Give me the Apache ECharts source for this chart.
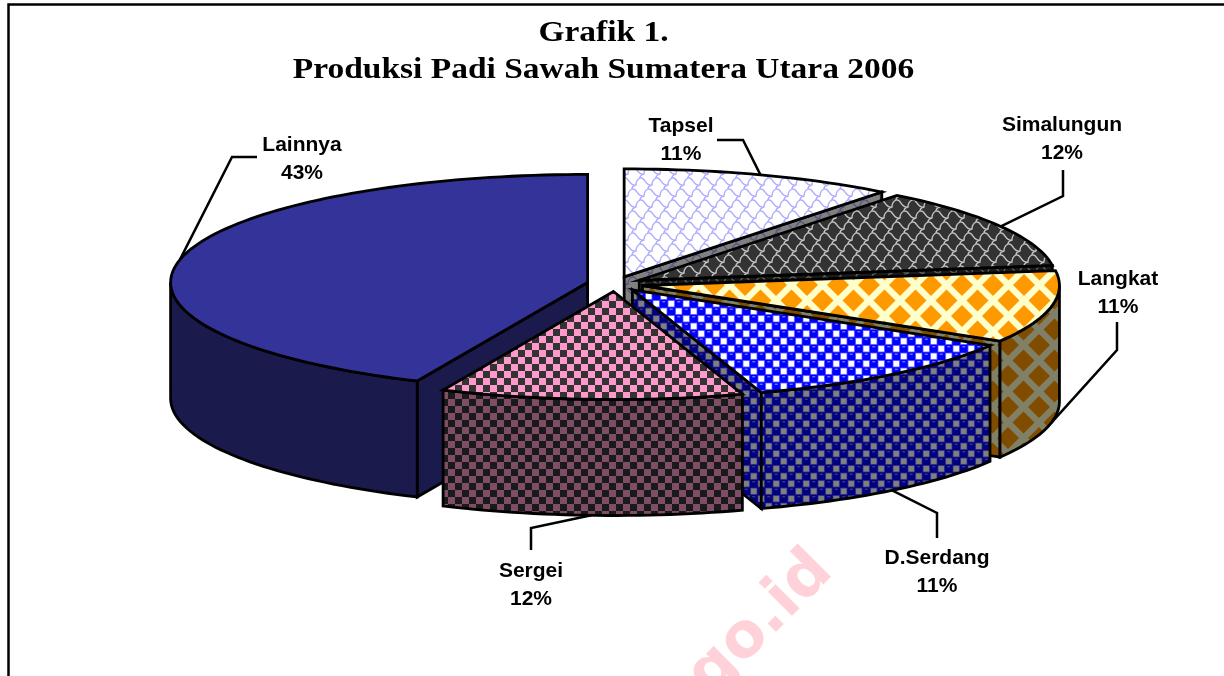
<!DOCTYPE html>
<html>
<head>
<meta charset="utf-8">
<title>Grafik 1</title>
<script src="https://cdn.jsdelivr.net/npm/echarts@6/dist/echarts.min.js"></script>
<style>
  html,body{margin:0;padding:0;background:#fff}
  #chart{width:1224px;height:676px}
</style>
</head>
<body>
<div id="chart"></div>
<script>
// ---------- data ----------
const categories = ['Tapsel', 'Simalungun', 'Langkat', 'D.Serdang', 'Sergei', 'Lainnya'];
const shares = [10.6, 12.2, 10.8, 11.4, 11.7, 43.3];
const percentLabels = ['11%', '12%', '11%', '11%', '12%', '43%'];

// ---------- layout ----------
const pie = {cx: 615, cy: 284, rx: 417, ry: 108, depth: 116, ex: 28, ey: 7.5};
const drawRank = [1, 2, 3, 4, 5, 0];   // Lainnya goes under Sergei
// label centre, elbow and end of each leader line
const labelSpots = [
  {x: 681, y: 140, elbow: [743, 140], end: [717, 140]},
  {x: 1062, y: 139, elbow: [1063, 196], end: [1063, 170]},
  {x: 1118, y: 293, elbow: [1117, 350], end: [1117, 322]},
  {x: 937, y: 572, elbow: [937, 513], end: [937, 538]},
  {x: 531, y: 585, elbow: [531, 528], end: [531, 550]},
  {x: 302, y: 159, elbow: [232, 157], end: [257, 157]}
];

// ---------- pattern tiles ----------
function tile(w, h, bg, draw){
  const c = document.createElement('canvas');
  c.width = w; c.height = h;
  const g = c.getContext('2d');
  g.fillStyle = bg; g.fillRect(0, 0, w, h);
  draw(g, w, h);
  return {image: c, repeat: 'repeat'};
}
function scales(bg, fg){
  return tile(16, 22, bg, g=>{
    g.strokeStyle = fg; g.lineWidth = 1.3;
    for(let row=-1; row<=2; row++) for(let col=-1; col<=1; col++){
      const x = col*16+(row%2 ? 8 : 0), y = row*11+2;
      g.beginPath();
      g.moveTo(x, y);
      g.bezierCurveTo(x+6, y-1, x+4, y+8, x+12, y+7);   // falling S curve
      g.quadraticCurveTo(x+12, y+2, x+16, y);           // short rise
      g.moveTo(x+12, y+7);
      g.quadraticCurveTo(x+8, y+8, x+8, y+11);          // joins next row
      g.stroke();
    }
  });
}
function diamonds(bg, fg, ox, oy){
  return tile(31, 31, bg, g=>{
    g.fillStyle = fg;
    for(let r=-1; r<=1; r++) for(let c=-1; c<=1; c++){
      [[ox+c*31, oy+r*31], [ox+15.5+c*31, oy+15.5+r*31]].forEach(p=>{
        g.beginPath();
        g.moveTo(p[0], p[1]-11); g.lineTo(p[0]+11, p[1]);
        g.lineTo(p[0], p[1]+11); g.lineTo(p[0]-11, p[1]);
        g.closePath(); g.fill();
      });
    }
  });
}
function balls(ball, square, shine){
  return tile(15, 15, ball, g=>{
    [[11.25,3.75],[3.75,11.25]].forEach(p=>{
      g.fillStyle = shine;
      g.fillRect(p[0]-3.5, p[1]-3.5, 7, 7);
      g.fillStyle = square;
      g.fillRect(p[0]-2.7, p[1]-2.7, 5.4, 5.4);
    });
    g.fillStyle = shine;
    [[3.75,3.75],[11.25,11.25]].forEach(p=>g.fillRect(p[0]-1.5, p[1]-2.6, 3, 1.2));
  });
}
function checks(a, b){
  return tile(14, 14, a, g=>{
    g.fillStyle = b;
    g.fillRect(0, 0, 7, 7); g.fillRect(7, 7, 7, 7);
  });
}

const topFills = [
  scales('#ffffff', '#aaaaff'),
  scales('#333333', '#c8c8c8'),
  diamonds('#ffffcc', '#ff9900', 1, 6),
  balls('#0000ff', '#ffffff', '#8080ff'),
  checks('#ff99cc', '#333333'),
  '#333399'
];
const sideFills = [
  scales('#808080', '#555580'),
  scales('#1a1a1a', '#646464'),
  diamonds('#808066', '#804d00', 16, 4),
  balls('#000080', '#808080', '#404080'),
  checks('#804d66', '#1a1a1a'),
  '#1a1a4d'
];

// ---------- geometry ----------
const total = shares.reduce((a,b)=>a+b, 0);
let running = 0;
const slices = shares.map(v=>{
  const start = echarts.number.linearMap(running, [0,total], [0,360]);
  running += v;
  const end = echarts.number.linearMap(running, [0,total], [0,360]);
  const mid = (start+end)/2, rad = mid*Math.PI/180;
  return {start, end, mid, ax: pie.cx+pie.ex*Math.sin(rad), ay: pie.cy-pie.ey*Math.cos(rad)};
});
function rim(s, deg, drop){
  const r = deg*Math.PI/180;
  return [s.ax+pie.rx*Math.sin(r), s.ay-pie.ry*Math.cos(r)+(drop||0)];
}
function arc(s, a, b, drop){
  const pts = [], n = Math.max(2, Math.ceil((b-a)/1.5));
  for(let i=0;i<=n;i++) pts.push(rim(s, a+(b-a)*i/n, drop));
  return pts;
}
const edge = {stroke:'#000', lineWidth:2.8, lineJoin:'miter'};

function cutFace(s, deg, fill, z){
  const p = rim(s, deg);
  return {type:'polygon', z2:z,
    shape:{points:[[s.ax,s.ay],p,[p[0],p[1]+pie.depth],[s.ax,s.ay+pie.depth]]},
    style:{fill, ...edge}};
}

function renderItem(params){
  const i = params.dataIndex, s = slices[i], base = (drawRank[i]+1)*10;
  const kids = [];
  // radial cut faces that look towards the viewer
  if(Math.sin(s.start*Math.PI/180) < -1e-6) kids.push(cutFace(s, s.start, sideFills[i], base));
  if(Math.sin(s.end*Math.PI/180) > 1e-6) kids.push(cutFace(s, s.end, sideFills[i], base));
  // outer wall, only the front half of the ellipse
  const a = Math.max(s.start, 90), b = Math.min(s.end, 270);
  if(b > a){
    kids.push({type:'polygon', z2:base+1,
      shape:{points:arc(s,a,b,0).concat(arc(s,a,b,pie.depth).reverse())},
      style:{fill:sideFills[i], ...edge}});
  }
  // top face
  kids.push({type:'polygon', z2:base+2,
    shape:{points:[[s.ax,s.ay]].concat(arc(s,s.start,s.end,0))},
    style:{fill:topFills[i], ...edge}});
  // leader line + label
  const front = s.mid>90 && s.mid<270;
  const spot = labelSpots[i];
  kids.push({type:'polyline', z2:1,
    shape:{points:[rim(s, s.mid, front?pie.depth:0), spot.elbow, spot.end]},
    style:{fill:null, stroke:'#000', lineWidth:2.5}});
  kids.push({type:'text', z2:100, x:spot.x, y:spot.y,
    style:{text:categories[i]+'\n'+percentLabels[i], align:'center', verticalAlign:'middle',
      fill:'#000', font:'bold 21px "Liberation Sans", Arial, sans-serif', lineHeight:28}});
  return {type:'group', children:kids};
}

// ---------- chart ----------
const chart = echarts.init(document.getElementById('chart'), null, {renderer:'canvas'});
chart.setOption({
  backgroundColor:'#fff',
  animation:false,
  graphic:[
    {type:'polyline', shape:{points:[[8.5,690],[8.5,4.5],[1240,4.5]]}, style:{fill:null, stroke:'#000', lineWidth:2.5}},
    {type:'text', x:603.5, y:52.5, scaleX:1.154,
      style:{text:'Grafik 1.\nProduksi Padi Sawah Sumatera Utara 2006', align:'center', verticalAlign:'middle',
        fill:'#000', font:'bold 29px "Liberation Serif", "Times New Roman", serif', lineHeight:37}},
    {type:'text', x:761, y:624, rotation:Math.PI/4,
      style:{text:'go.id', align:'center', verticalAlign:'middle', fill:'#ffd2da', font:'bold 62px "DejaVu Sans", sans-serif'}}
  ],
  series:[{
    type:'custom', coordinateSystem:'none', silent:true, clip:false,
    data:shares, renderItem
  }]
});
</script>
</body>
</html>
